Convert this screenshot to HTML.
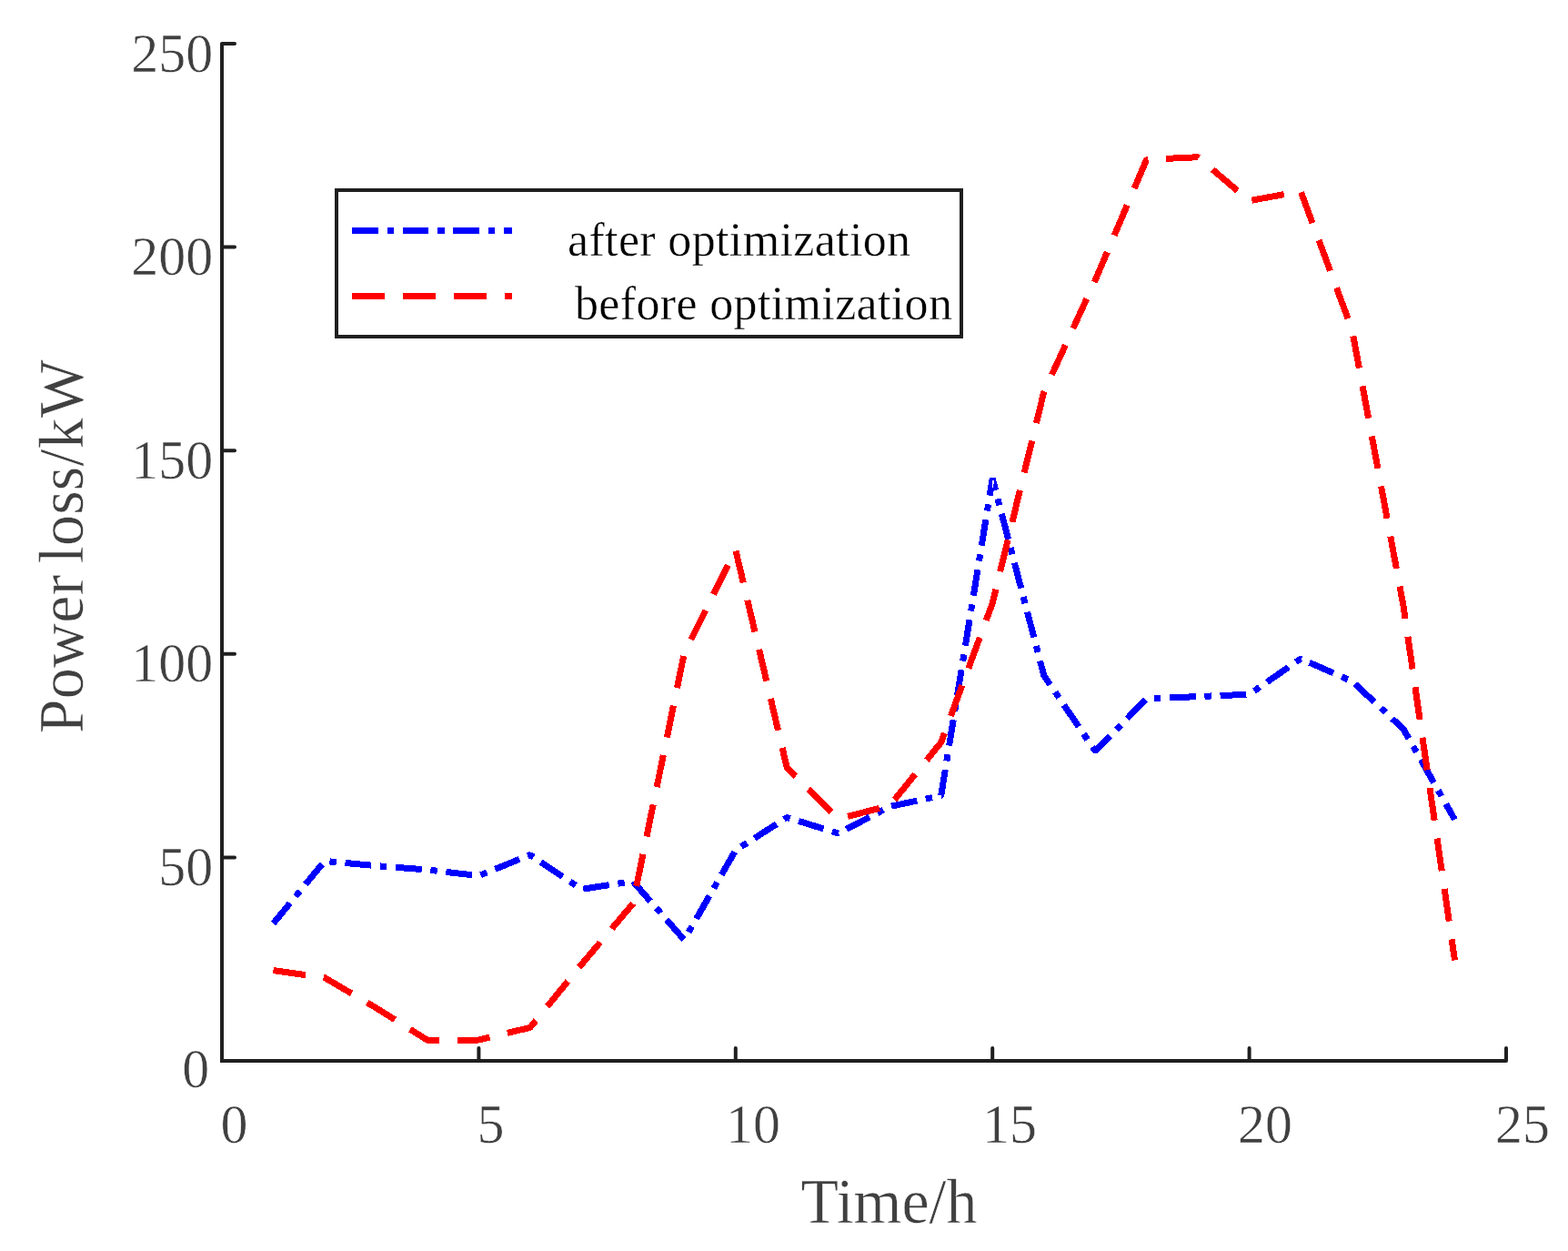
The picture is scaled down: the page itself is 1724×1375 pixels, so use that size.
<!DOCTYPE html>
<html lang="en">
<head>
<meta charset="utf-8">
<title>Power loss before and after optimization</title>
<style>
html,body{margin:0;padding:0;background:#fff;}
body{width:1724px;height:1375px;overflow:hidden;}
svg{display:block;}
text{font-family:"Liberation Serif","DejaVu Serif",serif;}
.tick{font-size:60px;fill:#404040;stroke:#fff;stroke-width:0.5px;}
.axl{font-size:68px;fill:#404040;stroke:#fff;stroke-width:0.5px;}
.leg{font-size:52px;fill:#000;letter-spacing:0.35px;stroke:#fff;stroke-width:0.4px;}
</style>
</head>
<body>
<svg width="1724" height="1375" viewBox="0 0 1724 1375">
<rect x="0" y="0" width="1724" height="1375" fill="#ffffff"/>

<g fill="none" stroke="#1f1f1f" stroke-width="4">
<polyline points="244.0,48.0 244.0,1166.0 1656.0,1166.0" stroke-linejoin="miter" stroke-linecap="butt"/>
<g stroke-linecap="round">
<line x1="244.0" y1="942.4" x2="258.0" y2="942.4"/>
<line x1="244.0" y1="718.8" x2="258.0" y2="718.8"/>
<line x1="244.0" y1="495.2" x2="258.0" y2="495.2"/>
<line x1="244.0" y1="271.6" x2="258.0" y2="271.6"/>
<line x1="244.0" y1="48.0" x2="258.0" y2="48.0"/>
<line x1="526.4" y1="1166.0" x2="526.4" y2="1152.0"/>
<line x1="808.8" y1="1166.0" x2="808.8" y2="1152.0"/>
<line x1="1091.2" y1="1166.0" x2="1091.2" y2="1152.0"/>
<line x1="1373.6" y1="1166.0" x2="1373.6" y2="1152.0"/>
<line x1="1656.0" y1="1166.0" x2="1656.0" y2="1152.0"/>
</g></g>
<text class="tick" transform="translate(234.3,78.6) scale(1,1.03)" text-anchor="end">250</text>
<text class="tick" transform="translate(234.3,302.2) scale(1,1.03)" text-anchor="end">200</text>
<text class="tick" transform="translate(234.3,525.8) scale(1,1.03)" text-anchor="end">150</text>
<text class="tick" transform="translate(234.3,749.4) scale(1,1.03)" text-anchor="end">100</text>
<text class="tick" transform="translate(234.3,973.0) scale(1,1.03)" text-anchor="end">50</text>
<text class="tick" transform="translate(230.3,1195.3) scale(1,1.03)" text-anchor="end">0</text>
<text class="tick" transform="translate(242.5,1255.7) scale(1,1.03)">0</text>
<text class="tick" transform="translate(524.5,1255.7) scale(1,1.03)">5</text>
<text class="tick" transform="translate(798,1255.7) scale(1,1.03)">10</text>
<text class="tick" transform="translate(1080,1255.7) scale(1,1.03)">15</text>
<text class="tick" transform="translate(1361,1255.7) scale(1,1.03)">20</text>
<text class="tick" transform="translate(1644,1255.7) scale(1,1.03)">25</text>
<text class="axl" transform="translate(880.5,1343.5) scale(1,1.015)">Time/h</text>
<text class="axl" style="word-spacing:-5px;letter-spacing:0.23px" transform="translate(91,806.3) rotate(-90) scale(1,1.015)">Power loss/kW</text>
<g fill="none" stroke-width="7" stroke-linecap="butt" stroke-linejoin="bevel" shape-rendering="crispEdges">
<polyline stroke="#0000ff" stroke-dasharray="28.9 9.7 7.4 9.7" stroke-dashoffset="0.00" points="300.5,1015.0 357.0,946.4 413.4,951.6 469.9,956.0 526.4,962.6 582.9,939.6 639.4,977.4 695.8,968.6 752.3,1033.0"/>
<polyline stroke="#0000ff" stroke-dasharray="28.9 9.7 7.4 9.7" stroke-dashoffset="28.96" points="752.3,1033.0 808.8,934.5 865.3,898.5 921.8,916.0 978.2,886.5 1034.7,874.5 1091.2,526.0"/>
<polyline stroke="#0000ff" stroke-dasharray="28.9 9.7 7.4 9.7" stroke-dashoffset="15.62" points="1091.2,526.0 1147.7,742.3 1204.2,825.5 1260.6,768.0 1317.1,765.6 1373.6,763.2 1430.1,724.0 1486.6,748.8 1543.0,801.3 1599.5,900.8"/>
<polyline stroke="#0000ff" points="1090.72,528.96 1091.2,526.0 1091.96,528.90"/>
<line x1="1092.3" y1="528.2" x2="1091.2" y2="536" stroke="#ffffff" stroke-width="1.5"/>
<polyline stroke="#ff0000" stroke-dasharray="35.8 19.8" stroke-dashoffset="0.00" points="300.5,1066.6 357.0,1074.6 413.4,1107.7 469.9,1143.2 526.4,1143.0 582.9,1129.4 639.4,1060.0 695.8,993.4 752.3,718.0 808.8,604.5 865.3,844.0 921.8,900.0"/>
<polyline stroke="#ff0000" stroke-dasharray="36 20" stroke-dashoffset="45.34" points="921.8,900.0 978.2,885.5 1034.7,816.0 1091.2,663.0 1147.7,431.0 1204.2,308.0 1260.6,175.4 1317.1,172.7 1373.6,220.7 1430.1,210.2 1486.6,362.6 1543.0,666.0 1599.5,1055.5"/>
</g>
<rect x="370" y="209" width="687" height="161" fill="#ffffff" stroke="#1f1f1f" stroke-width="4"/>
<g fill="none" stroke-width="7" stroke-linecap="butt" shape-rendering="crispEdges">
<line x1="387" y1="253.5" x2="562.5" y2="253.5" stroke="#0000ff" stroke-dasharray="28.8 9.7 7.4 9.7"/>
<line x1="387" y1="325.5" x2="562.5" y2="325.5" stroke="#ff0000" stroke-dasharray="35.8 20.2"/>
</g>
<text class="leg" x="624" y="281.3">after optimization</text>
<text class="leg" x="632" y="351.4">before optimization</text>
</svg>
</body>
</html>
